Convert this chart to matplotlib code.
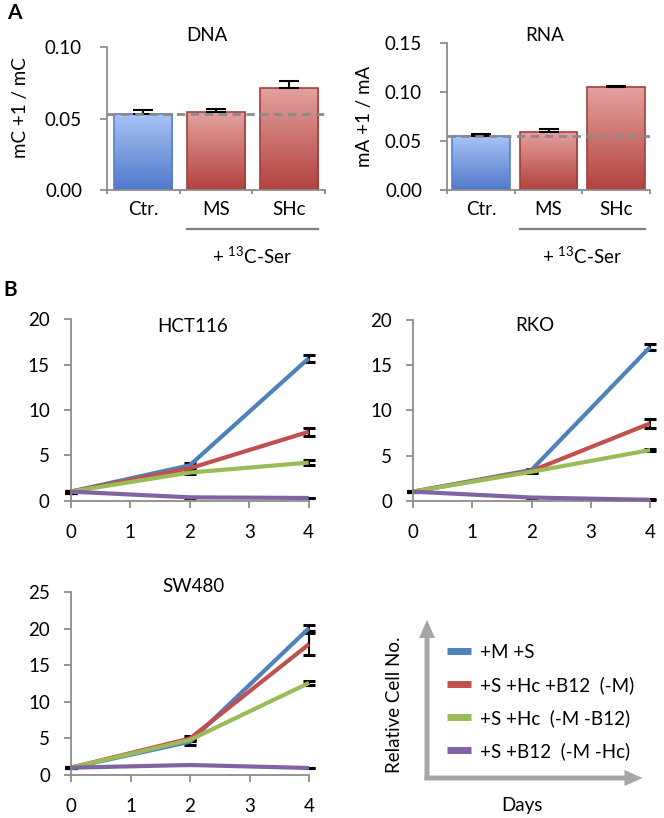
import numpy as np
import matplotlib
matplotlib.use("Agg")
import matplotlib.pyplot as plt
from matplotlib.lines import Line2D
from matplotlib.colors import LinearSegmentedColormap
import matplotlib.transforms as mtransforms

plt.rcParams["font.family"] = ["Lato", "DejaVu Sans"]
plt.rcParams["mathtext.fontset"] = "custom"
plt.rcParams["mathtext.rm"] = "Lato"
plt.rcParams["mathtext.it"] = "Lato:italic"
plt.rcParams["mathtext.bf"] = "Lato:bold"

FS = 13.5
GRAY = "#8c8c8c"

# ---------------------------------------------------------------------------
# data
# ---------------------------------------------------------------------------
bar_labels = ["Ctr.", "MS", "SHc"]
dna_vals = [0.0534, 0.0545, 0.0715]
dna_err = [0.0025, 0.0020, 0.0045]
rna_vals = [0.0554, 0.0592, 0.1048]
rna_err = [0.0017, 0.0027, 0.0010]

days = [0, 2, 4]
conditions = ["+M +S", "+S +Hc +B12  (-M)", "+S +Hc  (-M -B12)", "+S +B12  (-M -Hc)"]
line_colors = ["#4f81bd", "#c0504d", "#9bbb59", "#8064a2"]

hct116 = [[1, 3.9, 15.7], [1, 3.57, 7.6], [1, 3.1, 4.2], [1, 0.37, 0.3]]
hct116_err = [[0.1, 0.25, 0.4], [0.1, 0.2, 0.45], [0.1, 0.15, 0.25], [0.1, 0.05, 0.05]]
rko = [[1, 3.4, 17.0], [1, 3.3, 8.55], [1, 3.2, 5.6], [1, 0.35, 0.1]]
rko_err = [[0.05, 0.1, 0.35], [0.05, 0.1, 0.45], [0.05, 0.1, 0.1], [0.05, 0.05, 0.05]]
sw480 = [[1, 4.55, 20.1], [1, 5.0, 17.9], [1, 4.8, 12.6], [1, 1.37, 0.96]]
sw480_err = [[0.05, 0.4, 0.45], [0.05, 0.3, 1.5], [0.05, 0.2, 0.25], [0.05, 0.05, 0.05]]

W, H = 664, 818
fig = plt.figure(figsize=(W / 100, H / 100), dpi=100)


def px_axes(left, top, right, bottom):
    """Axes from pixel box (origin top-left)."""
    return fig.add_axes([left / W, 1 - bottom / H, (right - left) / W, (bottom - top) / H])


def style_axes(ax, pad_x, pad_y):
    for s in ("top", "right"):
        ax.spines[s].set_visible(False)
    for s in ("left", "bottom"):
        ax.spines[s].set_color(GRAY)
        ax.spines[s].set_linewidth(1.3)
    ax.tick_params(axis="both", colors=GRAY, width=1.3, length=5, labelsize=FS,
                   labelcolor="black")
    ax.tick_params(axis="x", pad=pad_x)
    ax.tick_params(axis="y", pad=pad_y)


def gradient_bars(ax, bars, top_color, bottom_color, edge):
    cmap = LinearSegmentedColormap.from_list("g", [bottom_color, top_color])
    grad = np.linspace(0, 1, 256).reshape(-1, 1)
    for b in bars:
        x0, y0, w, h = b.get_x(), b.get_y(), b.get_width(), b.get_height()
        im = ax.imshow(grad, extent=(x0, x0 + w, y0, y0 + h), origin="lower",
                       aspect="auto", cmap=cmap, zorder=1)
        im.set_clip_path(b)
        b.set_facecolor("none")
        b.set_edgecolor(edge)
        b.set_linewidth(1.2)
        b.set_zorder(2)


def bar_panel(box, vals, errs, ymax, yticks, width, title, title_xy, ylabel, ylabel_xy):
    ax = px_axes(*box)
    x = np.arange(len(vals))
    bars = ax.bar(x, vals, width=width)
    gradient_bars(ax, bars[:1], "#a9c4f6", "#5079cb", "#5a80c8")
    gradient_bars(ax, bars[1:], "#e4a29f", "#b2423e", "#a43e3a")
    ax.errorbar(x, vals, yerr=[np.zeros(len(errs)), errs], fmt="none", ecolor="black",
                elinewidth=1.5, capsize=7, capthick=1.5, zorder=3)
    ax.axhline(vals[0], color="#8a8a8a", ls=(0, (3, 2)), lw=2, zorder=4)
    ax.set_xlim(-0.5, len(vals) - 0.5)
    ax.set_ylim(0, ymax)
    ax.set_yticks(yticks)
    ax.set_yticklabels([f"{t:.2f}" for t in yticks])
    ax.set_xticks(x)
    ax.set_xticklabels(bar_labels)
    ax.set_xticks(np.arange(len(vals) + 1) - 0.5, minor=True)
    style_axes(ax, 8, 13)
    ax.tick_params(axis="x", which="major", length=0)
    ax.tick_params(axis="x", which="minor", length=3, color=GRAY, width=1.3)
    ax.text(*title_xy, title, transform=ax.transAxes, ha="center", va="center", fontsize=FS)
    fig.text(ylabel_xy[0] / W, 1 - ylabel_xy[1] / H, ylabel, rotation=90,
             ha="center", va="center", fontsize=FS)
    # bracket line under the two 13C-Ser bars
    trans = mtransforms.blended_transform_factory(ax.transData, ax.transAxes)
    x0 = bars[1].get_x()
    x1 = bars[2].get_x() + bars[2].get_width()
    y_line = (box[3] - 229) / (box[3] - box[1])
    y_text = (box[3] - 256) / (box[3] - box[1])
    ax.add_line(Line2D([x0, x1], [y_line, y_line], transform=trans, color="#7f7f7f",
                       lw=1.6, clip_on=False))
    ax.text((x0 + x1) / 2, y_text, "+ $^{13}$C-Ser", transform=trans, ha="center",
            va="center", fontsize=FS)
    return ax


bar_panel((107, 47, 325, 190), dna_vals, dna_err, 0.10, [0, 0.05, 0.10], 0.8,
          "DNA", (0.459, 1.078), "mC +1 / mC", (21, 108))
bar_panel((447, 43, 650, 190), rna_vals, rna_err, 0.15, [0, 0.05, 0.10, 0.15], 0.857,
          "RNA", (0.483, 1.05), "mA +1 / mA", (364, 116))


def growth_panel(box, data, errs, ymax, title, title_xy):
    ax = px_axes(*box)
    for vals, err, c in zip(data, errs, line_colors):
        eb = ax.errorbar(days, vals, yerr=err, fmt="none", ecolor="black",
                         elinewidth=1.5, capsize=4.5, capthick=2.2, zorder=2)
        for part in eb.lines:
            if part is None:
                continue
            for a in (part if isinstance(part, tuple) else [part]):
                a.set_clip_on(False)
        ax.plot(days, vals, color=c, lw=3, clip_on=False, zorder=3,
                solid_capstyle="butt")
    ax.set_xlim(0, 4)
    ax.set_ylim(0, ymax)
    ax.set_xticks(range(5))
    ax.set_yticks(range(0, ymax + 1, 5))
    style_axes(ax, 11.5, 10)
    ax.text(*title_xy, title, transform=ax.transAxes, ha="center", va="center", fontsize=FS)
    return ax


growth_panel((70.7, 319.3, 308.7, 500.7), hct116, hct116_err, 20, "HCT116", (0.514, 0.96))
growth_panel((413, 320, 650, 500.7), rko, rko_err, 20, "RKO", (0.516, 0.968))
growth_panel((71, 592.3, 309, 775), sw480, sw480_err, 25, "SW480", (0.515, 1.03))

# panel letters
fig.text(14 / W, 1 - 13 / H, "A", fontsize=15, fontweight="bold", ha="center", va="center")
fig.text(10 / W, 1 - 290 / H, "B", fontsize=15, fontweight="bold", ha="center", va="center")

# legend key with axis arrows
over = fig.add_axes([0, 0, 1, 1], facecolor="none")
over.set_xlim(0, W)
over.set_ylim(H, 0)
over.axis("off")
arrow_gray = "#a6a6a6"
over.arrow(427, 780, 0, -160, width=5, head_width=16, head_length=18,
           length_includes_head=True, color=arrow_gray, lw=0)
over.arrow(424.5, 778, 218, 0, width=5, head_width=16, head_length=18,
           length_includes_head=True, color=arrow_gray, lw=0)
over.text(395, 705, "Relative Cell No.", rotation=90, ha="center", va="center", fontsize=FS)
over.text(522, 805, "Days", ha="center", va="center", fontsize=FS)

handles = [Line2D([], [], color=c, lw=5, solid_capstyle="butt") for c in line_colors]
fig.legend(handles, conditions, loc="upper left", bbox_to_anchor=(447 / W, 1 - 644 / H),
           frameon=False, fontsize=FS, handlelength=1.3, handletextpad=0.45,
           labelspacing=0.8, borderpad=0, borderaxespad=0)

fig.savefig("out.png", dpi=100)
